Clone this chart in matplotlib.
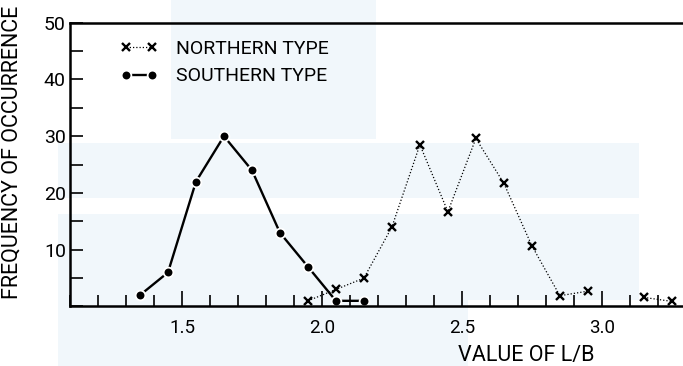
import numpy as np
import matplotlib
matplotlib.use("Agg")
import matplotlib.pyplot as plt
from matplotlib.ticker import MultipleLocator
from matplotlib.patches import Rectangle

plt.rcParams['font.family'] = ['Roboto', 'DejaVu Sans']
plt.rcParams['font.weight'] = 'normal'

# L/B class midpoints and frequency counts
south_x = [1.35, 1.45, 1.55, 1.65, 1.75, 1.85, 1.95, 2.05, 2.15]
south_y = [2, 6, 22, 30, 24, 13, 7, 1, 1]

north_x = [1.95, 2.05, 2.15, 2.25, 2.35, 2.45, 2.55, 2.65, 2.75, 2.85, 2.95, 3.05, 3.15, 3.25]
north_y = [1, 3, 5, 14, 28.5, 16.7, 29.6, 21.7, 10.7, 1.9, 2.7, np.nan, 1.6, 0.9]

x_ticks = [1.5, 2.0, 2.5, 3.0]
x_tick_labels = ["1.5", "2.0", "2.5", "3.0"]
y_ticks = [10, 20, 30, 40, 50]
y_tick_labels = ["10", "20", "30", "40", "50"]

fig = plt.figure(figsize=(6.83, 3.66), dpi=100)

# faint pale-blue background bands
band = '#f1f7fb'
for (x0, y0, w, h) in [(0.085, 0.46, 0.85, 0.15), (0.085, 0.18, 0.85, 0.235),
                       (0.085, 0.0, 0.60, 0.185), (0.25, 0.62, 0.30, 0.38)]:
    fig.patches.append(Rectangle((x0, y0), w, h, transform=fig.transFigure,
                                 facecolor=band, edgecolor='none', zorder=0))

ax = fig.add_axes([0.1025, 0.1626, 0.8975, 0.7754])
ax.set_zorder(2)
ax.patch.set_alpha(0)

ax.plot(north_x, north_y, linestyle=(0, (1, 1.6)), color='black', linewidth=0.9,
        marker='x', markersize=5.5, markeredgewidth=1.7, label='NORTHERN TYPE')
ax.plot(south_x, south_y, linestyle='-', color='black', linewidth=1.7,
        marker='o', markersize=7, markerfacecolor='black',
        markeredgecolor='white', markeredgewidth=1.3, label='SOUTHERN TYPE')

ax.set_xlim(1.1, 3.29)
ax.set_ylim(0, 50)

ax.set_xticks(x_ticks)
ax.set_xticklabels(x_tick_labels)
ax.set_yticks(y_ticks)
ax.set_yticklabels(y_tick_labels)
ax.xaxis.set_minor_locator(MultipleLocator(0.1))
ax.yaxis.set_minor_locator(MultipleLocator(5))

ax.tick_params(axis='x', which='major', direction='in', length=11, width=1.2,
               labelsize=13.5, pad=9, colors='black')
ax.tick_params(axis='x', which='minor', direction='in', length=8, width=1.2)
ax.tick_params(axis='y', which='both', direction='in', length=9, width=1.2,
               labelsize=14, pad=3)

for side in ('left', 'bottom', 'top'):
    ax.spines[side].set_linewidth(1.8)
ax.spines['right'].set_visible(False)

leg = ax.legend(loc='upper left', bbox_to_anchor=(0.082, 0.94), frameon=False,
                borderpad=0, borderaxespad=0, numpoints=2,
                handlelength=1.95, handletextpad=0.9, labelspacing=0.5,
                fontsize=14)

fig.text(0.018, 0.585, 'FREQUENCY OF OCCURRENCE', rotation=90, fontsize=15.5,
         ha='center', va='center')
fig.text(0.771, 0.03, 'VALUE OF L/B', fontsize=15.5, ha='center', va='center')

fig.savefig('out.png', dpi=100)
